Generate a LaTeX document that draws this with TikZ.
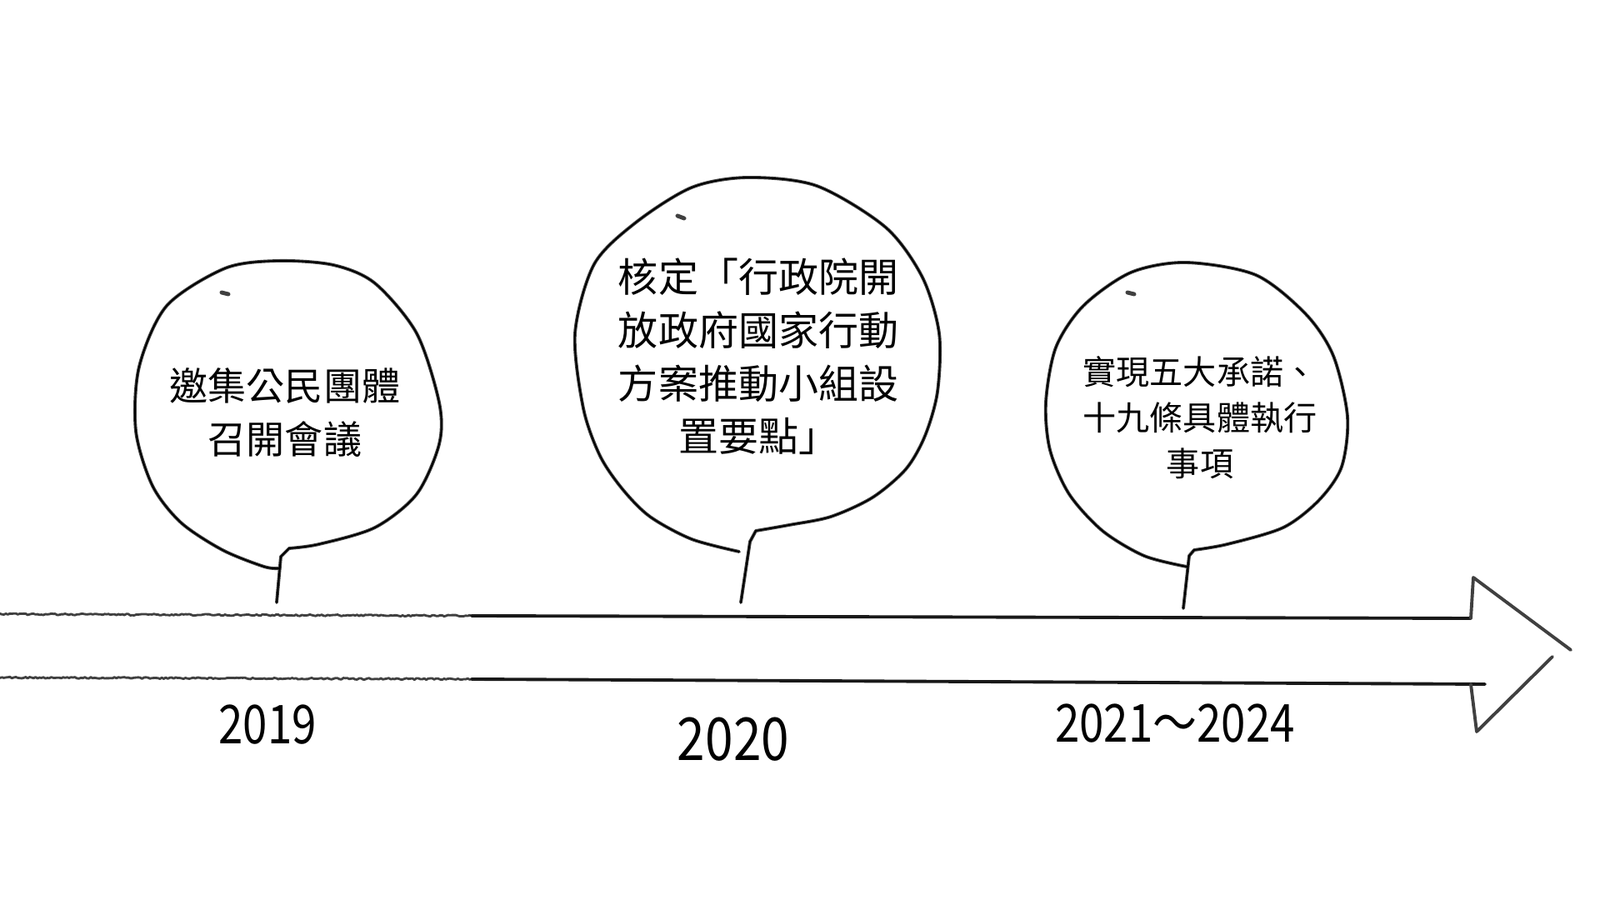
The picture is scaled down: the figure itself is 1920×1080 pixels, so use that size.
\documentclass[tikz,border=0pt]{standalone}
\usepackage{fontspec}
\setmainfont{Noto Sans CJK TC}
\begin{document}
\begin{tikzpicture}[x=0.01cm, y=-0.01cm,
  pencil/.style={draw=black!75, line width=1.1pt, line cap=round, line join=round},
  pencilcore/.style={draw=black, line width=0.5pt, line cap=round, line join=round},
  rough/.style={draw=black!75, line width=0.8pt, line cap=round, line join=round},
  ink/.style={draw=black!90, line width=1.1pt, line cap=round, line join=round},
  bubtext/.style={align=center, inner sep=0pt, text=black},
  year/.style={inner sep=0pt, text=black}]
\useasboundingbox[fill=white] (0,0) rectangle (1920,1080);

% bubbles
\foreach \s in {pencil,pencilcore}{
\draw[\s] (332,723) -- (337,668) -- plot[smooth] coordinates {(347,658) (383,653) (450,633) (500,593) (527,533) (527,483) (500,400) (450,340) (400,318) (333,313) (270,322) (200,367) (167,440) (163,517) (183,583) (217,627) (267,660) (317,680) (336,682)};
\draw[\s] (889,723) -- (900,650) -- plot[smooth] coordinates {(907,637) (947,630) (997,620) (1047,597) (1087,563) (1110,523) (1125,470) (1127,400) (1107,333) (1063,273) (980,223) (897,213) (830,225) (763,267) (713,317) (690,400) (700,490) (720,547) (747,587) (780,620) (830,647) (887,662)};
\draw[\s] (1420,730) -- (1427,667) -- plot[smooth] coordinates {(1433,660) (1473,653) (1540,633) (1583,600) (1610,560) (1617,500) (1600,427) (1567,377) (1507,330) (1423,315) (1357,327) (1300,367) (1267,417) (1255,483) (1260,540) (1283,593) (1323,637) (1373,667) (1424,680)};
}
% specks
\draw[pencil, line width=1.4pt] (266,351) -- (274,353);
\draw[pencil, line width=1.4pt] (813,259) -- (821,262);
\draw[pencil, line width=1.4pt] (1353,351) -- (1361,353);

% arrow
\coordinate (tl) at (0,737);
\coordinate (tm) at (566,739);
\coordinate (tr) at (1765,742);
\coordinate (hu) at (1768,693);
\coordinate (tip) at (1885,780);
\coordinate (tip2) at (1863,788);
\coordinate (hd) at (1772,878);
\coordinate (br) at (1765,821);
\coordinate (bre) at (1782,821);
\coordinate (bm) at (566,815);
\coordinate (bl) at (0,813);
\draw[rough] (tl) -- plot[domain=0:566, samples=240] (\x, {737+2*\x/566+0.9*rand}) -- (tm);
\draw[rough] (bl) -- plot[domain=0:566, samples=240] (\x, {813+2*\x/566+0.9*rand}) -- (bm);
\draw[ink] (tm) -- (tr);
\draw[pencil] (tr) -- (hu) -- (tip);
\draw[ink] (bm) -- (bre);
\draw[pencil] (tip2) -- (hd) -- (br);

% texts
\node[bubtext, font=\fontsize{13.1pt}{18.2pt}\selectfont] (t1) at (342,495) {邀集公民團體\\召開會議};
\node[bubtext, font=\fontsize{13.65pt}{18.1pt}\selectfont] (t2) at (910,428) {核定「行政院開\\放政府國家行動\\方案推動小組設\\置要點」};
\node[bubtext, font=\fontsize{11.4pt}{15.6pt}\selectfont] (t3) at (1440,501) {實現五大承諾、\\十九條具體執行\\事項};

\node[year, font=\fontsize{18.3pt}{22pt}\selectfont] (y1) at (321,870) {\scalebox{0.82}[1]{2019}};
\node[year, font=\fontsize{20.2pt}{24pt}\selectfont] (y2) at (880,887) {\scalebox{0.85}[1]{2020}};
\node[year, font=\fontsize{17.9pt}{22pt}\selectfont] (y3) at (1410,868) {\scalebox{0.84}[1]{2021～2024}};
\end{tikzpicture}
\end{document}
